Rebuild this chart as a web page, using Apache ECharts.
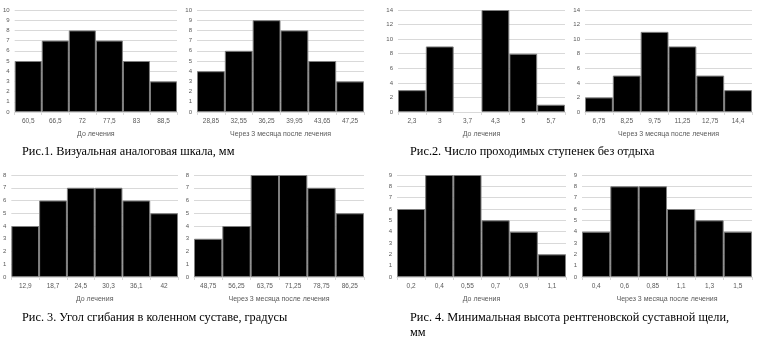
<!DOCTYPE html>
<html><head><meta charset="utf-8">
<script src="https://cdn.jsdelivr.net/npm/echarts@6/dist/echarts.min.js"></script>
<style>html,body{margin:0;padding:0;background:#fff}#c{width:776px;height:358px}</style>
</head><body><div id="c"></div>
<script>
const cats1 = ['60,5','66,5','72','77,5','83','88,5'];
const vals1 = [5,7,8,7,5,3];
const cats2 = ['28,85','32,55','36,25','39,95','43,65','47,25'];
const vals2 = [4,6,9,8,5,3];
const cats3 = ['2,3','3','3,7','4,3','5','5,7'];
const vals3 = [3,9,0,14,8,1];
const cats4 = ['6,75','8,25','9,75','11,25','12,75','14,4'];
const vals4 = [2,5,11,9,5,3];
const cats5 = ['12,9','18,7','24,5','30,3','36,1','42'];
const vals5 = [4,6,7,7,6,5];
const cats6 = ['48,75','56,25','63,75','71,25','78,75','86,25'];
const vals6 = [3,4,8,8,7,5];
const cats7 = ['0,2','0,4','0,55','0,7','0,9','1,1'];
const vals7 = [6,9,9,5,4,2];
const cats8 = ['0,4','0,6','0,85','1,1','1,3','1,5'];
const vals8 = [4,8,8,6,5,4];
const yMax = [10,10,14,14,8,8,9,9];
const yInt = [1,1,2,2,1,1,1,1];
const axisNames = ['До лечения','Через 3 месяца после лечения','До лечения','Через 3 месяца после лечения',
                   'До лечения','Через 3 месяца после лечения','До лечения','Через 3 месяца после лечения'];
const captions = ['Рис.1. Визуальная аналоговая шкала, мм','Рис.2. Число проходимых ступенек без отдыха',
                  'Рис. 3. Угол сгибания в коленном суставе, градусы','Рис. 4. Минимальная высота рентгеновской суставной щели,\nмм'];

const allCats = [cats1,cats2,cats3,cats4,cats5,cats6,cats7,cats8];
const allVals = [vals1,vals2,vals3,vals4,vals5,vals6,vals7,vals8];

const gridPos = [
  {left:12, top:10, width:165, height:102},
  {left:197, top:10, width:167, height:102},
  {left:398, top:10, width:167, height:102},
  {left:585, top:10, width:167, height:102},
  {left:9, top:175, width:169, height:102},
  {left:194, top:175, width:170, height:102},
  {left:397, top:175, width:169, height:102},
  {left:582, top:175, width:170, height:102}
];
const lblColor = '#595959';
const font = 'Liberation Sans, Arial, sans-serif';
const grid=[], xAxis=[], yAxis=[], series=[];
for (let i=0;i<8;i++){
  grid.push(gridPos[i]);
  xAxis.push({type:'category', gridIndex:i, data:allCats[i],
    axisLine:{lineStyle:{color:'#d9d9d9'}},
    axisTick:{show:true, length:3, lineStyle:{color:'#d9d9d9'}},
    axisLabel:{color:lblColor, fontSize:6.5, fontFamily:font, margin:6},
    name:axisNames[i], nameLocation:'middle', nameGap:19,
    nameTextStyle:{color:lblColor, fontSize:7, fontFamily:font}});
  yAxis.push({type:'value', gridIndex:i, min:0, max:yMax[i], interval:yInt[i],
    axisLine:{show:false}, axisTick:{show:false},
    splitLine:{lineStyle:{color:'#d9d9d9', width:1}},
    axisLabel:{color:lblColor, fontSize:6, fontFamily:font, margin:5}});
  series.push({type:'bar', xAxisIndex:i, yAxisIndex:i,
    data:allVals[i].map(v => v === 0 ? {value:0, itemStyle:{borderWidth:0}} : v),
    barCategoryGap:'0%', barGap:'0%', silent:true,
    itemStyle:{color:'#000', borderColor:'#7f7f7f', borderWidth:1}});
}
const capPos = [{left:17, top:139},{left:405, top:139},{left:17, top:305},{left:405, top:305}];
const title = captions.map((t,k)=>({text:t, left:capPos[k].left, top:capPos[k].top,
  textStyle:{fontFamily:'Liberation Serif, Times New Roman, serif', fontSize:12.3, fontWeight:'normal', color:'#000', lineHeight:15}}));
const chart = echarts.init(document.getElementById('c'));
chart.setOption({animation:false, title, grid, xAxis, yAxis, series});
</script></body></html>
